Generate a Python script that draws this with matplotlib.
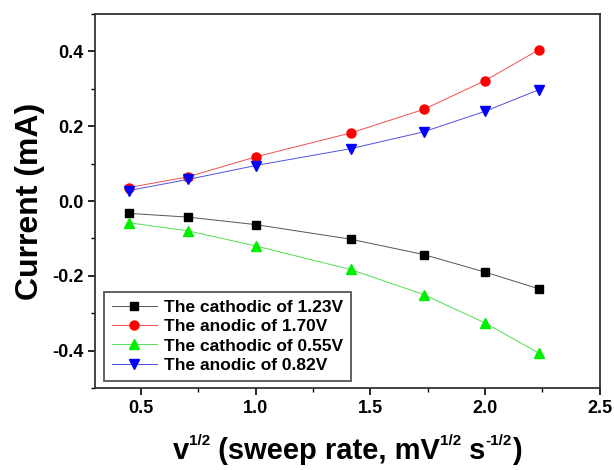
import numpy as np
import matplotlib.pyplot as plt
from matplotlib.ticker import MultipleLocator

plt.rcParams['font.family'] = ['Liberation Sans', 'DejaVu Sans']
plt.rcParams['font.weight'] = 'bold'
plt.rcParams['axes.unicode_minus'] = False

# square root of sweep rate (0.2, 0.5, 1, 2, 3, 4, 5 mV/s)
sqrt_rate = [0.447, 0.707, 1.000, 1.414, 1.732, 2.000, 2.236]

cath_123 = [-0.033, -0.043, -0.063, -0.102, -0.143, -0.190, -0.235]
anod_170 = [0.036, 0.065, 0.118, 0.182, 0.245, 0.322, 0.405]
cath_055 = [-0.058, -0.080, -0.120, -0.183, -0.250, -0.326, -0.407]
anod_082 = [0.028, 0.058, 0.095, 0.140, 0.185, 0.240, 0.298]

labels = ['The cathodic of 1.23V', 'The anodic of 1.70V',
          'The cathodic of 0.55V', 'The anodic of 0.82V']

W, H = 614, 470
fig = plt.figure(figsize=(W / 100, H / 100), dpi=100)
ax = fig.add_axes([0.1547, 0.1745, 0.822, 0.7955])

series = [
    (cath_123, 's', '#555555', 'black', 6.0),
    (anod_170, 'o', '#f05050', 'red', 6.5),
    (cath_055, '^', '#50e050', '#00ee00', 7.0),
    (anod_082, 'v', '#5050e0', 'blue', 7.0),
]
for (vals, mk, lc, mc, ms), lab in zip(series, labels):
    ax.plot(sqrt_rate, vals, '-', marker=mk, color=lc, lw=0.7, ms=ms,
            markerfacecolor=mc, markeredgecolor=mc, label=lab)

ax.set_xlim(0.3, 2.5)
ax.set_ylim(-0.5, 0.5)
ax.xaxis.set_major_locator(MultipleLocator(0.5))
ax.xaxis.set_minor_locator(MultipleLocator(0.25))
ax.yaxis.set_major_locator(MultipleLocator(0.2))
ax.yaxis.set_minor_locator(MultipleLocator(0.1))
ax.tick_params(which='major', direction='out', length=5, width=1.2, labelsize=13)
ax.tick_params(which='minor', direction='out', length=3, width=1.0)
for sp in ax.spines.values():
    sp.set_linewidth(1.3)
    sp.set_edgecolor('#333333')
for lab in ax.get_xticklabels() + ax.get_yticklabels():
    lab.set_fontweight('bold')

ax.set_ylabel('Current (mA)', fontsize=23, fontweight='bold', labelpad=5)

# x label laid out piece by piece so the superscripts stay small
xlab_parts = [('v', False), ('1/2', True), (' (sweep rate, mV', False), ('1/2', True),
              (' s', False), ('-1/2', True), (')', False)]
main_fs, sup_fs, sup_raise = 21, 11, 14
baseline = 11
renderer = fig.canvas.get_renderer()
pieces = []
x = 0
for txt, sup in xlab_parts:
    y = baseline + (sup_raise if sup else 0)
    t = fig.text(x / W, y / H, txt, fontsize=sup_fs if sup else main_fs,
                 fontweight='bold', ha='left', va='baseline')
    x = t.get_window_extent(renderer).x1
    pieces.append(t)
# centre the whole label under the axes
ax_bb = ax.get_window_extent(renderer)
shift = (ax_bb.x0 + ax_bb.x1) / 2 - x / 2
for t in pieces:
    px, py = t.get_position()
    t.set_position((px + shift / W, py))

leg = ax.legend(loc='lower left', bbox_to_anchor=(0.018, 0.019), borderaxespad=0,
                fontsize=12.5, fancybox=False, edgecolor='#555555', framealpha=1,
                handlelength=2.6, handletextpad=0.4, labelspacing=0.25,
                borderpad=0.45, numpoints=1)
leg.get_frame().set_linewidth(1.3)

fig.savefig('out.png', dpi=100)
